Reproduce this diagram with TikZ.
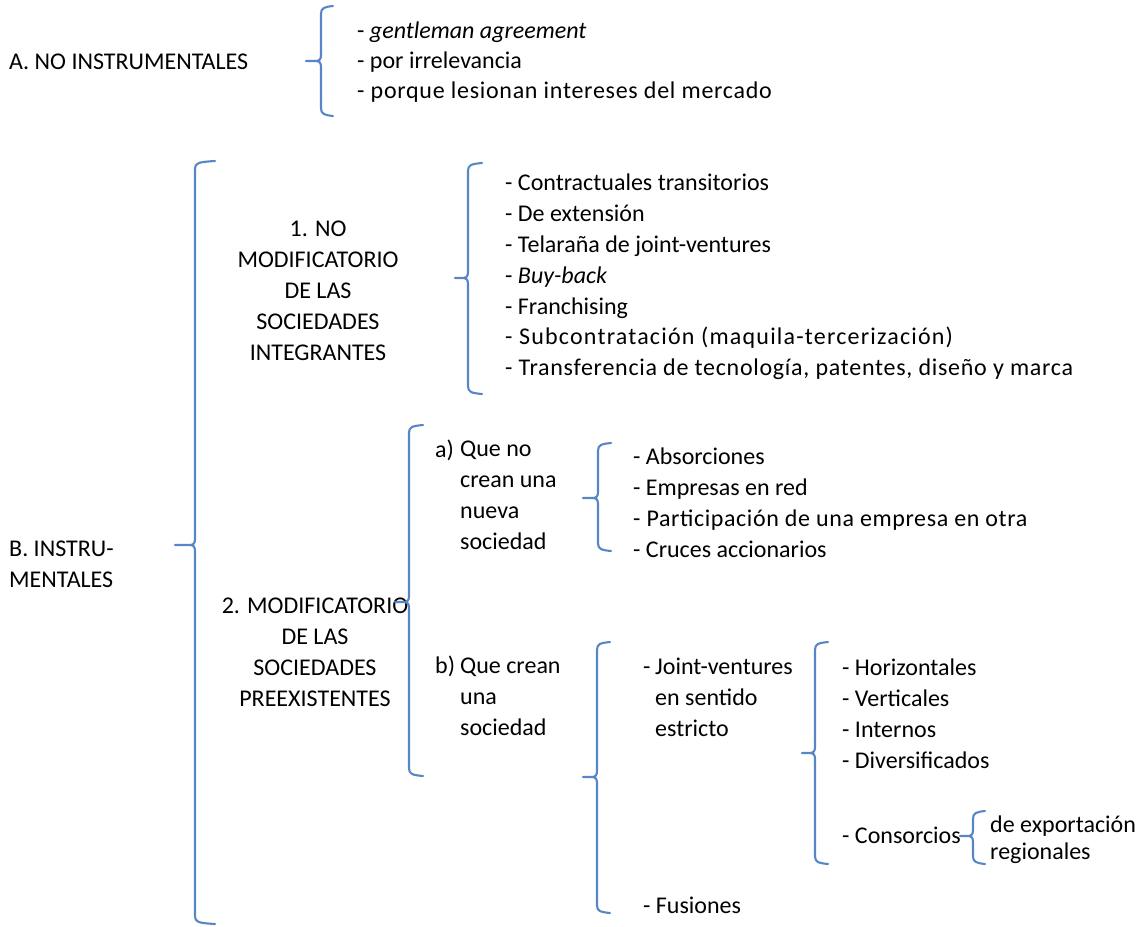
\documentclass[tikz,border=0pt]{standalone}
\usepackage{fontspec}
\setmainfont{Carlito}
\definecolor{braceblue}{RGB}{86,134,198}
\newcommand{\listfont}{\fontsize{24}{30.8}\selectfont}
% text set with extra tracking (amount in hundredths of an em)
\newcommand{\tracked}[2]{{\addfontfeature{LetterSpace=#1}#2}}
% left curly brace: #1 x of the stem, #2 top, #3 tip height, #4 bottom, #5 hook length, #6 tip length
\newcommand{\wbrace}[6]{%
  \draw[brace] ({#1+#5},{#2-1}) .. controls ({#1+3},#2) and (#1,{#2+1}) .. (#1,{#2+7})
    -- (#1,{#3-6}) .. controls (#1,{#3-1}) and ({#1-2},#3) .. ({#1-6},#3) -- ({#1-#6},#3)
    ({#1-6},#3) .. controls ({#1-2},#3) and (#1,{#3+1}) .. (#1,{#3+6})
    -- (#1,{#4-7}) .. controls (#1,{#4-1}) and ({#1+3},#4) .. ({#1+#5},{#4+1});}
\tikzset{
  brace/.style={draw=braceblue, line width=2.1pt, line cap=round, line join=round},
  txt/.style={anchor=base west, inner sep=0pt, font=\listfont, text=black},
  % multi-line nodes are placed by the baseline of their last line
  ctr/.style={anchor=base, inner sep=0pt, font=\listfont, align=center, text=black},
  lft/.style={anchor=base west, inner sep=0pt, font=\listfont, align=left, text=black},
}
\begin{document}
\begin{tikzpicture}[x=1pt,y=-1pt]
\useasboundingbox (0,0) rectangle (1140,926);

% A. non-instrumental agreements
\node[txt] (A) at (9,69) {A. NO INSTRUMENTALES};
\wbrace{321}{7}{61}{115}{12}{15}
\node[txt] (A1) at (357,38) {- \textit{gentleman agreement}};
\node[txt] (A2) at (357,68) {- por irrelevancia};
\node[txt] (A3) at (357,98) {\tracked{3}{- porque lesionan intereses del mercado}};

% B. instrumental agreements
\node[lft] (B) at (9,587) {B. INSTRU-\\MENTALES};
\wbrace{195}{162}{545}{923}{20}{20}

% 1. not modifying the member companies
\node[ctr] (B1) at (318,360) {1. NO\\MODIFICATORIO\\DE LAS\\SOCIEDADES\\INTEGRANTES};
\wbrace{468}{164}{278}{393}{14}{13}
\node[txt] (c1) at (505,190) {- Contractuales transitorios};
\node[txt] (c2) at (505,221) {- De extensión};
\node[txt] (c3) at (505,252) {- Telaraña de joint-ventures};
\node[txt] (c4) at (505,283) {- \textit{Buy-back}};
\node[txt] (c5) at (505,314) {- Franchising};
\node[txt] (c6) at (505,344) {\tracked{5}{- Subcontratación (maquila-tercerización)}};
\node[txt] (c7) at (505,375) {\tracked{3}{- Transferencia de tecnología, patentes, diseño y marca}};

% 2. modifying the existing companies
\node[ctr] (B2) at (315,706) {2. MODIFICATORIO\\DE LAS\\SOCIEDADES\\PREEXISTENTES};
\wbrace{409}{426}{602}{775}{14}{14}

% a) no new company
\node[txt] (a) at (435,457) {a)};
\node[lft] (aT) at (460,549) {Que no\\crean una\\nueva\\sociedad};
\wbrace{598}{444}{498}{550}{13}{15}
\node[txt] (a1) at (633,464) {- Absorciones};
\node[txt] (a2) at (633,495) {- Empresas en red};
\node[txt] (a3) at (633,526) {\tracked{2.5}{- Participación de una empresa en otra}};
\node[txt] (a4) at (633,557) {- Cruces accionarios};

% b) a new company
\node[txt] (b) at (435,673) {b)};
\node[lft] (bT) at (460,735) {Que crean\\una\\sociedad};
\wbrace{597}{643}{777}{912}{13}{14}
\node[txt] (jvd) at (643,674) {-};
\node[lft] (jv) at (655,736) {Joint-ventures\\en sentido\\estricto};
\node[txt] (fus) at (643,913) {- Fusiones};

% kinds of joint-ventures
\wbrace{815}{643}{753}{863}{13}{13}
\node[txt] (j1) at (842,675) {- Horizontales};
\node[txt] (j2) at (842,706) {- Verticales};
\node[txt] (j3) at (842,737) {- Internos};
\node[txt] (j4) at (842,768) {- Diversificados};
\node[txt] (j5) at (842,843) {- Consorcios};

% kinds of consortia
\wbrace{973}{812}{836}{863}{12}{13}
\node[txt] (k1) at (990,832) {de exportación};
\node[txt] (k2) at (990,859) {regionales};
\end{tikzpicture}
\end{document}
